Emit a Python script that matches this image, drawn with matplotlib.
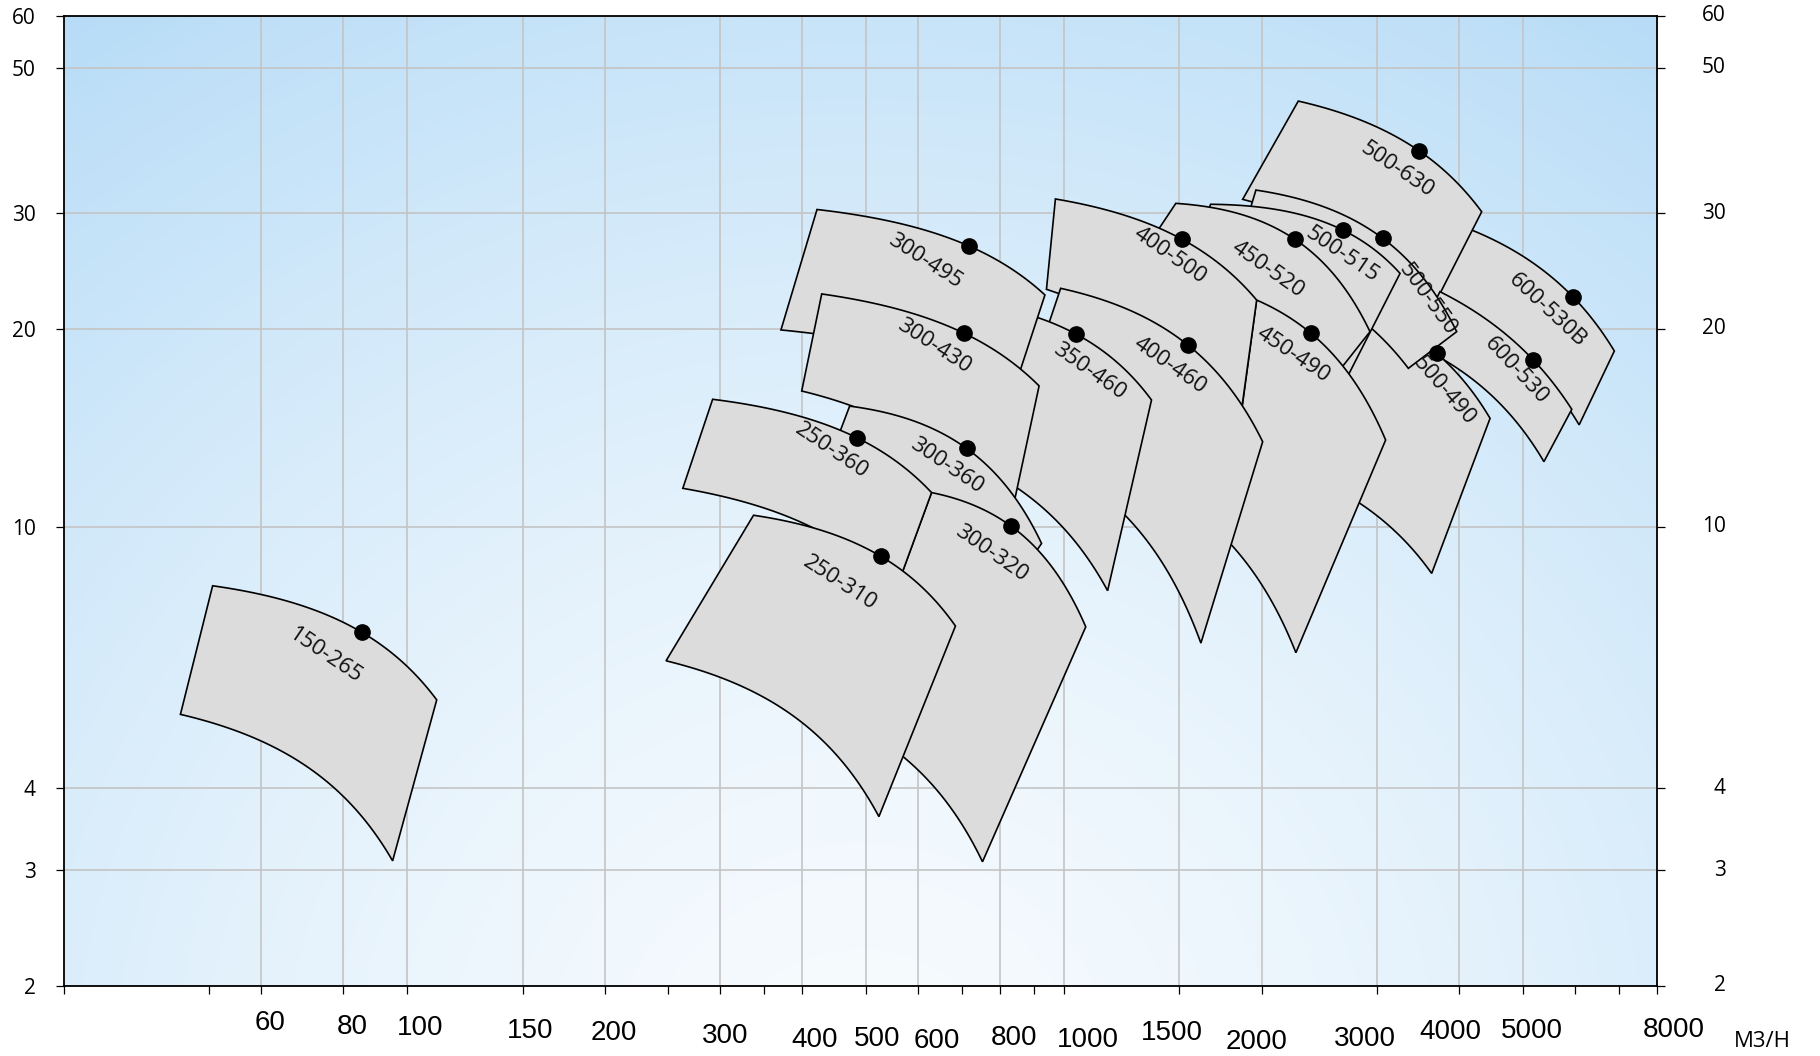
import numpy as np
import matplotlib
matplotlib.use("Agg")
import matplotlib.pyplot as plt
from matplotlib import font_manager as fm
from matplotlib.patches import Polygon
from matplotlib.transforms import ScaledTranslation
from matplotlib.ticker import NullLocator, FixedLocator

# ---------------- data (flow Q in m3/h, head H in m) ----------------
models = ['600-530B', '500-630', '600-530', '500-490', '500-550', '500-515',
          '450-520', '450-490', '400-500', '400-460', '350-460', '300-495',
          '300-430', '300-360', '300-320', '250-360', '250-310', '150-265']

top_left_q  = [4067, 2275, 3738, 2726, 1961, 1673, 1481, 1966, 971, 989, 857, 421, 428, 472, 629, 292, 337, 50.6]
top_left_h  = [28.59, 44.45, 22.79, 21.75, 32.54, 30.96, 31.06, 22.13, 31.54, 23.06, 21.22, 30.4, 22.61, 15.26, 11.27, 15.63, 10.41, 8.13]
bep_q       = [5956, 3473, 5185, 3695, 3058, 2658, 2248, 2378, 1514, 1543, 1045, 717, 705, 711, 830, 484, 526, 85.3]
bep_h       = [22.39, 37.35, 17.94, 18.36, 27.48, 28.29, 27.38, 19.70, 27.38, 18.92, 19.63, 26.75, 19.70, 13.16, 10.03, 13.66, 9.02, 6.91]
top_right_q = [6889, 4327, 5934, 4456, 3964, 3250, 2925, 3090, 1966, 2008, 1360, 936, 917, 925, 1080, 629, 684, 111.0]
top_right_h = [18.51, 30.16, 15.09, 14.62, 19.81, 24.30, 19.81, 13.55, 22.13, 13.47, 15.59, 22.53, 16.38, 9.43, 7.04, 11.27, 7.06, 5.45]
bot_right_q = [6089, 3565, 5382, 3631, 3346, 2593, 2455, 2256, 1820, 1617, 1166, 836, 821, 827, 752, 555, 523, 95.1]
bot_right_h = [14.29, 20.63, 12.56, 8.49, 17.42, 15.59, 15.87, 6.43, 12.63, 6.65, 7.99, 15.96, 9.78, 8.01, 3.09, 8.01, 3.62, 3.10]
bot_left_q  = [3585, 1872, 3412, 2285, 1822, 1556, 1238, 1756, 941, 824, 776, 371, 399, 428, 469, 263, 248, 45.2]
bot_left_h  = [22.13, 31.50, 18.95, 12.1, 25.52, 25.46, 23.74, 9.63, 22.98, 13.4, 12.1, 19.93, 16.09, 11.78, 5.06, 11.44, 6.25, 5.18]

x_major = [60, 80, 100, 150, 200, 300, 400, 500, 600, 800, 1000, 1500, 2000, 3000, 4000, 5000, 8000]
x_labels = ['60', '80', '100', '150', '200', '300', '400', '500', '600', '800', '1000',
            '1500', '2000', '3000', '4000', '5000', '8000']
x_minor = [30, 50, 250, 350, 700, 900, 6000, 7000]
y_major = [2, 3, 4, 10, 20, 30, 50, 60]
y_labels = ['2', '3', '4', '10', '20', '30', '50', '60']

# ---------------- layout / style ----------------
# label placement relative to the BEP dot (pixels right, pixels down, rotation deg)
label_layout = [(-26, 14, 43), (-22, 19, 34), (-17, 11, 47), (8, 38, 49), (45, 61, 54),
                (0, 25, 34), (-27, 30, 35), (-18, 22, 34), (-12, 16, 35), (-18, 21, 35),
                (13, 37, 35), (-44, 15, 33), (-30, 13, 33), (-20, 17, 34), (-19, 28, 35),
                (-25, 13, 34), (-41, 27, 33), (-36, 24, 34)]
# x tick label placement (pixels right of tick, pixels below axis)
xlabel_layout = [(8.5, 37), (8.7, 41), (13, 42), (8, 45), (9.5, 47), (5, 50), (12, 54),
                 (11.5, 53), (19, 55), (14, 52), (24, 54), (-8, 47), (-5, 56), (-12.5, 53),
                 (-8.5, 46), (8.5, 45), (16.4, 44)]


def pick_font(fams):
    for f in fams:
        try:
            fm.findfont(fm.FontProperties(family=f), fallback_to_default=False)
            return f
        except Exception:
            continue
    return 'DejaVu Sans'


narrow = pick_font(['Liberation Sans Narrow'])
if narrow == 'Liberation Sans Narrow':
    XFONT, XSIZE = ['Liberation Sans Narrow', 'DejaVu Sans'], 22
else:
    XFONT, XSIZE = [pick_font(['Liberation Sans', 'Roboto']), 'DejaVu Sans'], 20
FONT = ['Open Sans', 'DejaVu Sans']

W, H = 1820, 1056
DPI = 100
fig = plt.figure(figsize=(W / DPI, H / DPI), dpi=DPI)
rect = [63.5 / W, 1 - 985.9 / H, (1657 - 63.5) / W, (985.9 - 15.5) / H]

# background gradient
bg = fig.add_axes(rect, zorder=0)
ny, nx = 300, 500
yy, xx = np.mgrid[0:1:ny * 1j, 0:1:nx * 1j]
r = np.sqrt(((xx - 0.5) / 0.75) ** 2 + ((yy + 0.1) / 1.15) ** 2)
t = np.clip(r / 1.17, 0, 1) ** 1.5
c0 = np.array([247, 251, 254]) / 255.0
c1 = np.array([183, 220, 247]) / 255.0
img = c0 + (c1 - c0) * t[..., None]
bg.imshow(img, extent=(0, 1, 0, 1), origin='lower', aspect='auto', interpolation='bilinear')
bg.set_axis_off()

ax = fig.add_axes(rect, zorder=1)
ax.set_facecolor('none')
ax.set_xscale('log')
ax.set_yscale('log')
ax.set_xlim(30, 8000)
ax.set_ylim(2, 60)


def top_curve(q1, h1, qm, hm, q2, h2, n=80):
    coef = np.polyfit([q1, qm, q2], [h1, hm, h2], 2)
    q = np.geomspace(q1, q2, n)
    return q, np.polyval(coef, q)


def bottom_curve(q1, h1, q2, h2, n=80):
    b = (h1 - h2) / (q2 ** 2 - q1 ** 2)
    a = h1 + b * q1 ** 2
    q = np.geomspace(q1, q2, n)
    return q, a - b * q ** 2


for i, name in enumerate(models):
    tq, th = top_curve(top_left_q[i], top_left_h[i], bep_q[i], bep_h[i],
                       top_right_q[i], top_right_h[i])
    bq, bh = bottom_curve(bot_left_q[i], bot_left_h[i], bot_right_q[i], bot_right_h[i])
    verts = np.vstack([np.column_stack([tq, th]),
                       np.column_stack([bq[::-1], bh[::-1]])])
    poly = Polygon(verts, closed=True, facecolor='#dcdcdc', edgecolor='black',
                   linewidth=1.2, joinstyle='miter', zorder=2 + i)
    ax.add_patch(poly)

ax.plot(bep_q, bep_h, 'o', color='black', markersize=11, zorder=60, linestyle='none')

for i, name in enumerate(models):
    dx, dy, rot = label_layout[i]
    tr = ax.transData + ScaledTranslation(dx / DPI, -dy / DPI, fig.dpi_scale_trans)
    ax.text(bep_q[i], bep_h[i], name, transform=tr, ha='center', va='center',
            rotation=-rot, rotation_mode='anchor', fontsize=16, family=FONT,
            color='#111111', zorder=70)

# ticks and grid
ax.xaxis.set_major_locator(FixedLocator(x_major))
ax.xaxis.set_minor_locator(FixedLocator(x_minor))
ax.yaxis.set_major_locator(FixedLocator(y_major))
ax.yaxis.set_minor_locator(NullLocator())
ax.set_yticklabels(y_labels)
ax.grid(True, which='major', color='#c4c4c4', linewidth=1.2, zorder=0.5)
ax.set_axisbelow(True)
ax.tick_params(axis='x', which='both', bottom=True, top=False, labelbottom=False,
               length=5.8, width=0.9, direction='out', color='black')
ax.tick_params(axis='y', which='major', left=True, right=True, length=5.8, width=0.9,
               direction='out', labelsize=15, pad=14.4, color='black')
for lbl in ax.get_yticklabels():
    lbl.set_family(FONT)

for sp in ax.spines.values():
    sp.set_color('black')
    sp.set_linewidth(1.3)

# right-hand labels (right aligned)
rtr = ax.get_yaxis_transform() + ScaledTranslation((1725.5 - 1657) / DPI, 0, fig.dpi_scale_trans)
for v, s in zip(y_major, y_labels):
    ax.text(1.0, v, s, transform=rtr, ha='right', va='center', fontsize=15,
            family=FONT, clip_on=False)

# bottom labels (staggered)
for v, s, (dx, dy) in zip(x_major, x_labels, xlabel_layout):
    tr = ax.get_xaxis_transform() + ScaledTranslation(dx / DPI, -dy / DPI, fig.dpi_scale_trans)
    ax.text(v, 0, s, transform=tr, ha='center', va='center', fontsize=XSIZE,
            family=XFONT, clip_on=False)

fig.text(1762 / W, 1 - 1041.7 / H, 'M3/H', ha='center', va='center', fontsize=16, family=FONT)

fig.savefig('out.png', dpi=DPI)
